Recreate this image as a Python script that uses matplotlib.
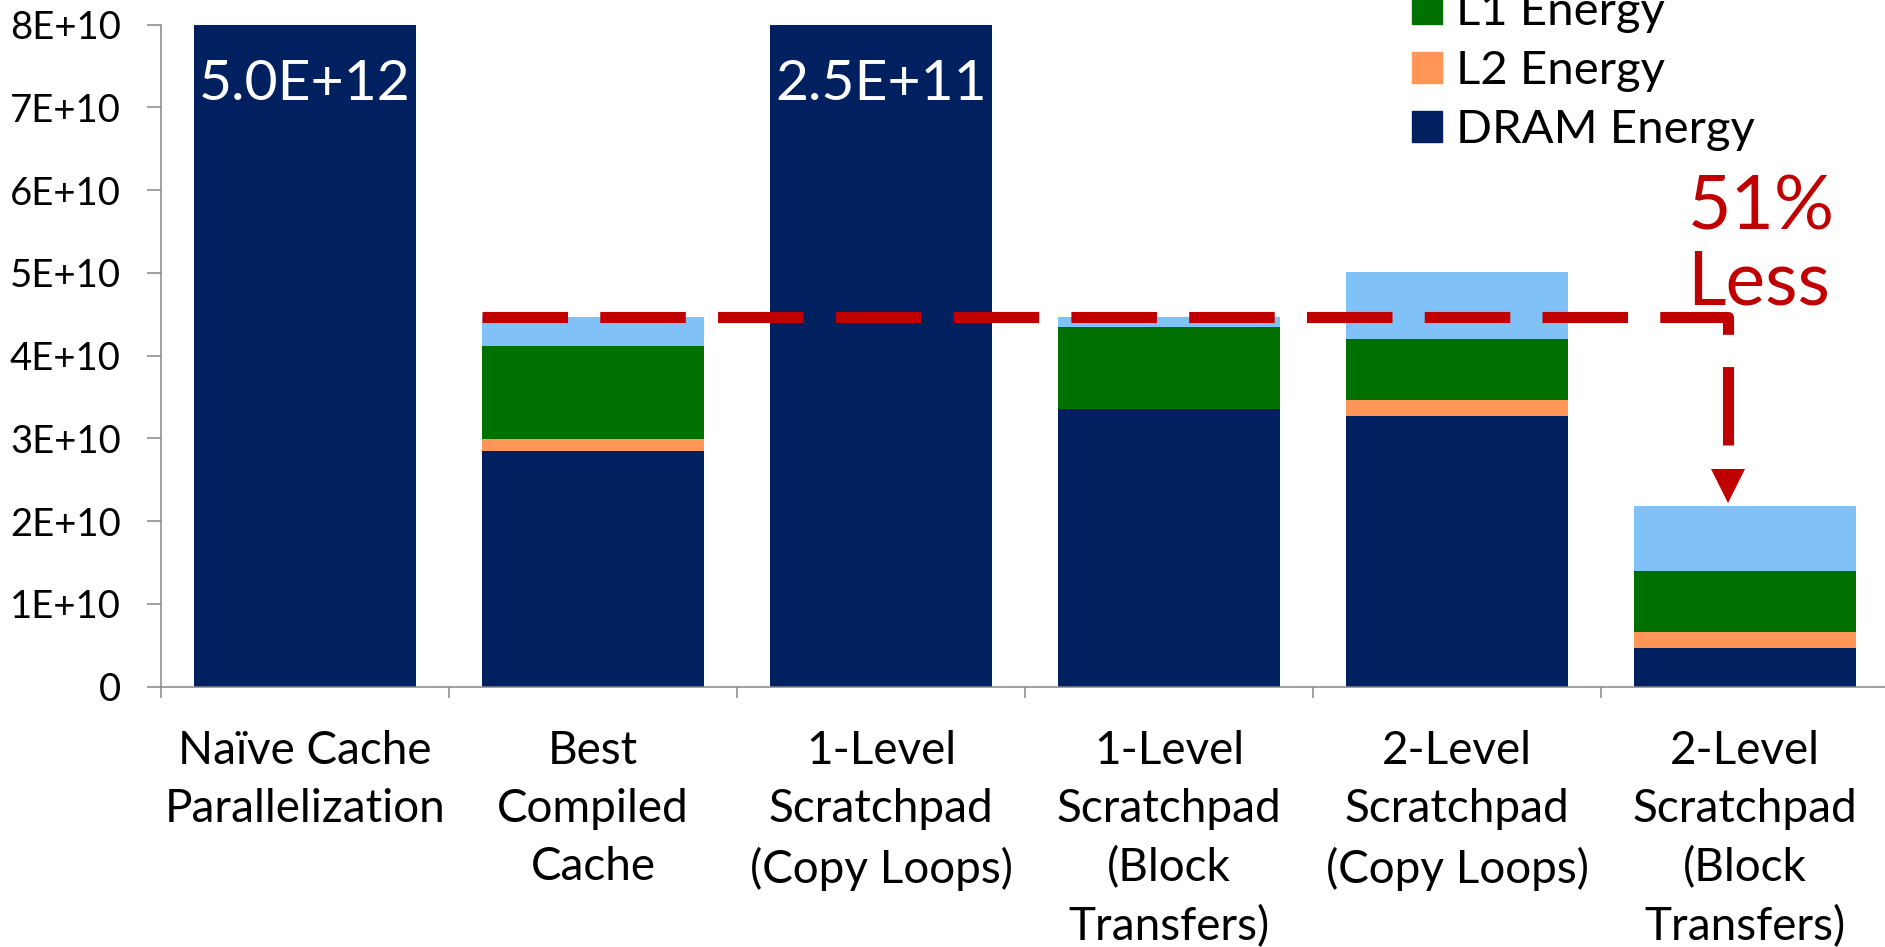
import matplotlib
matplotlib.use("Agg")
import matplotlib.pyplot as plt
from matplotlib.patches import Patch
from matplotlib.ticker import FuncFormatter, FixedLocator

plt.rcParams['font.family'] = ['Lato', 'DejaVu Sans']

# Categories (x axis)
categories = ["Naïve Cache\nParallelization",
              "Best\nCompiled\nCache",
              "1-Level\nScratchpad\n(Copy Loops)",
              "1-Level\nScratchpad\n(Block\nTransfers)",
              "2-Level\nScratchpad\n(Copy Loops)",
              "2-Level\nScratchpad\n(Block\nTransfers)"]

# Energy components, stacked bottom -> top
dram_energy = [5.0e12, 2.85e10, 2.5e11, 3.35e10, 3.27e10, 0.46e10]
l2_energy = [0.0, 0.14e10, 0.0, 0.0, 0.19e10, 0.20e10]
l1_energy = [0.0, 1.13e10, 0.0, 0.99e10, 0.74e10, 0.73e10]
top_energy = [0.0, 0.35e10, 0.0, 0.12e10, 0.81e10, 0.79e10]

# Bars running off the chart get their value written on them
off_scale = [0, 2]

# Colors
c_dram = '#002060'
c_l2 = '#FF9658'
c_l1 = '#007000'
c_top = '#80C2F8'
c_red = '#C00000'
c_axis = '#868686'

fig = plt.figure(figsize=(18.85, 9.47), dpi=100)
ax = fig.add_axes([161/1885, 260.5/947, 1728/1885, 662/947])

x = list(range(len(categories)))
width = 0.772

b1 = [d for d in dram_energy]
b2 = [d + a for d, a in zip(b1, l2_energy)]
b3 = [d + a for d, a in zip(b2, l1_energy)]
totals = [d + a for d, a in zip(b3, top_energy)]

ax.bar(x, dram_energy, width, color=c_dram, label="DRAM Energy", zorder=2)
ax.bar(x, l2_energy, width, bottom=b1, color=c_l2, label="L2 Energy", zorder=2)
ax.bar(x, l1_energy, width, bottom=b2, color=c_l1, label="L1 Energy", zorder=2)
ax.bar(x, top_energy, width, bottom=b3, color=c_top, zorder=2)

ax.set_xlim(-0.5, len(categories) - 0.5)
ax.set_ylim(0, 8e10)

# Values of the clipped bars
for i in off_scale:
    ax.text(i, 7.27e10, "{0:.1E}".format(dram_energy[i]), ha='center', va='center',
            color='white', fontsize=41, zorder=4)

# Dashed reference line from the best cache bar down to the last bar
ARROW_X = 4.94
y_ref = totals[1]
ax.plot([1 - width/2, ARROW_X, ARROW_X], [y_ref, y_ref, 2.92e10],
        color=c_red, lw=8, dashes=(7.7, 2.9), dash_capstyle='butt',
        dash_joinstyle='round', zorder=3)
ax.plot([ARROW_X], [2.425e10], marker='v', markersize=24, color=c_red,
        markeredgewidth=0, zorder=3)
ax.text(4.80, 5.33e10, "51%\nLess", ha='left', va='center', color=c_red,
        fontsize=54, linespacing=1.1, zorder=4)

# Axes styling
for s in ['top', 'right']:
    ax.spines[s].set_visible(False)
for s in ['left', 'bottom']:
    ax.spines[s].set_color(c_axis)
    ax.spines[s].set_linewidth(1.1)

ax.yaxis.set_major_locator(FixedLocator([i*1e10 for i in range(9)]))
ax.yaxis.set_major_formatter(FuncFormatter(lambda v, p: "0" if v == 0 else "{0:.0E}".format(v)))
ax.tick_params(axis='y', direction='out', length=10, width=1.1, color=c_axis,
               pad=19, labelsize=27.5)

ax.set_xticks(x)
ax.set_xticklabels(categories, fontsize=33, linespacing=1.47)
ax.set_xticks([i - 0.5 for i in range(len(categories) + 1)], minor=True)
ax.tick_params(axis='x', which='major', length=0, pad=31)
ax.tick_params(axis='x', which='minor', direction='out', length=8, width=1.1, color=c_axis)

# Legend (the top of it runs off the figure)
handles = [Patch(color=c_l1, label="L1 Energy"),
           Patch(color=c_l2, label="L2 Energy"),
           Patch(color=c_dram, label="DRAM Energy")]
fig.legend(handles=handles, loc='lower left', bbox_to_anchor=(1412/1885, 796/947),
           frameon=False, fontsize=34, borderpad=0, borderaxespad=0,
           handlelength=0.64, handleheight=0.64, handletextpad=0.3, labelspacing=0.36)

plt.savefig("out.png", dpi=100)
